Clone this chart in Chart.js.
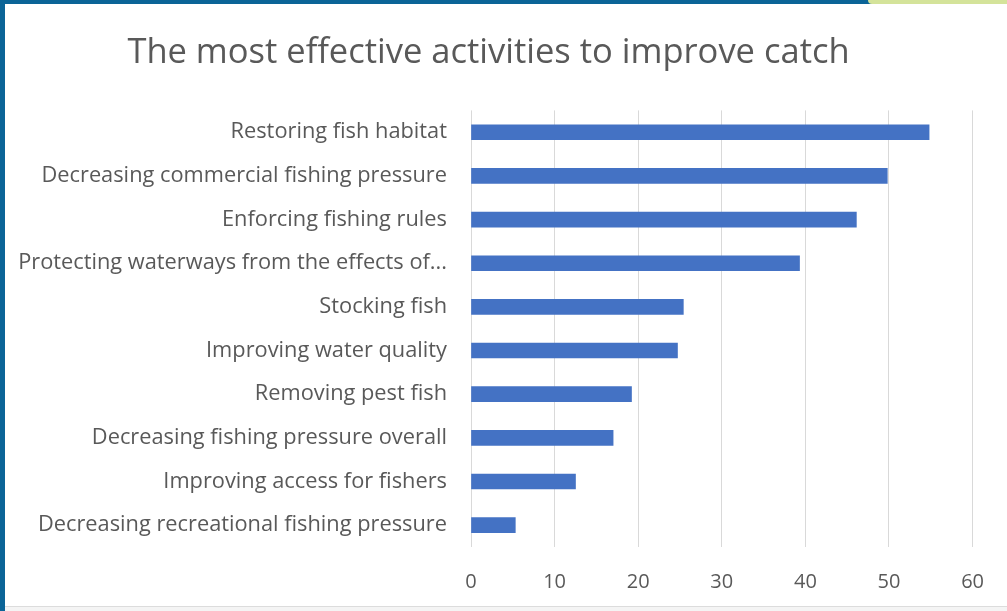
<!DOCTYPE html>
<html>
<head>
<meta charset="utf-8">
<script src="https://cdn.jsdelivr.net/npm/chart.js@4"></script>
<style>
  html, body { margin: 0; padding: 0; background: #fff; }
  body { width: 1007px; height: 611px; position: relative; overflow: hidden; }
  #chart { position: absolute; left: 0; top: 0; }
  .frame-left { position: absolute; left: 0; top: 0; width: 5px; height: 611px; background: #0b6497; }
  .frame-top { position: absolute; left: 0; top: 0; width: 872px; height: 4px; background: #0b6497; }
  .frame-green { position: absolute; left: 868px; top: 0; width: 139px; height: 4px; background: #d4e39a; border-bottom-left-radius: 6px; }
  .frame-bottom { position: absolute; left: 5px; top: 606px; width: 1002px; height: 5px; background: #f4f4f4; border-top: 1px solid #dcdcdc; }
</style>
</head>
<body>
<canvas id="chart" width="1007" height="611"></canvas>
<div class="frame-left"></div>
<div class="frame-top"></div>
<div class="frame-green"></div>
<div class="frame-bottom"></div>
<script>
// categories, top to bottom as in the picture
const activities = [
    'Restoring fish habitat',
    'Decreasing commercial fishing pressure',
    'Enforcing fishing rules',
    'Protecting waterways from the effects of...',
    'Stocking fish',
    'Improving water quality',
    'Removing pest fish',
    'Decreasing fishing pressure overall',
    'Improving access for fishers',
    'Decreasing recreational fishing pressure'
];
const responses = [54.8, 49.8, 46.1, 39.3, 25.4, 24.7, 19.2, 17.0, 12.5, 5.3];
const xTicks = [0, 10, 20, 30, 40, 50, 60];

const textColor = '#595959';
const gridColor = '#d9d9d9';
const fontFamily = '"Open Sans", sans-serif';

const ctx = document.getElementById('chart').getContext('2d');
new Chart(ctx, {
    type: 'bar',
    data: {
        labels: activities,
        datasets: [{
            data: responses,
            backgroundColor: '#4472c4',
            borderWidth: 0,
            barThickness: 15
        }]
    },
    options: {
        indexAxis: 'y',
        responsive: false,
        animation: false,
        layout: { padding: { left: 0, right: 30, top: 0, bottom: 0 } },
        plugins: {
            legend: { display: false },
            tooltip: { enabled: false },
            title: {
                display: true,
                text: 'The most effective activities to improve catch',
                color: textColor,
                font: { family: fontFamily, size: 34.5, weight: 'normal' },
                padding: { top: 32, bottom: 37 }
            }
        },
        scales: {
            x: {
                min: xTicks[0],
                max: xTicks[xTicks.length - 1],
                afterBuildTicks: axis => { axis.ticks = xTicks.map(v => ({ value: v })); },
                afterFit: axis => { axis.height = 64; },
                grid: { color: gridColor, drawTicks: false },
                border: { display: false },
                ticks: {
                    color: textColor,
                    padding: 23,
                    font: { family: fontFamily, size: 20 }
                }
            },
            y: {
                afterFit: axis => { axis.width = 471; },
                grid: { display: false, drawTicks: false },
                border: { display: false },
                ticks: {
                    color: textColor,
                    padding: 24,
                    autoSkip: false,
                    font: { family: fontFamily, size: 21.8 }
                }
            }
        }
    }
});
</script>
</body>
</html>
